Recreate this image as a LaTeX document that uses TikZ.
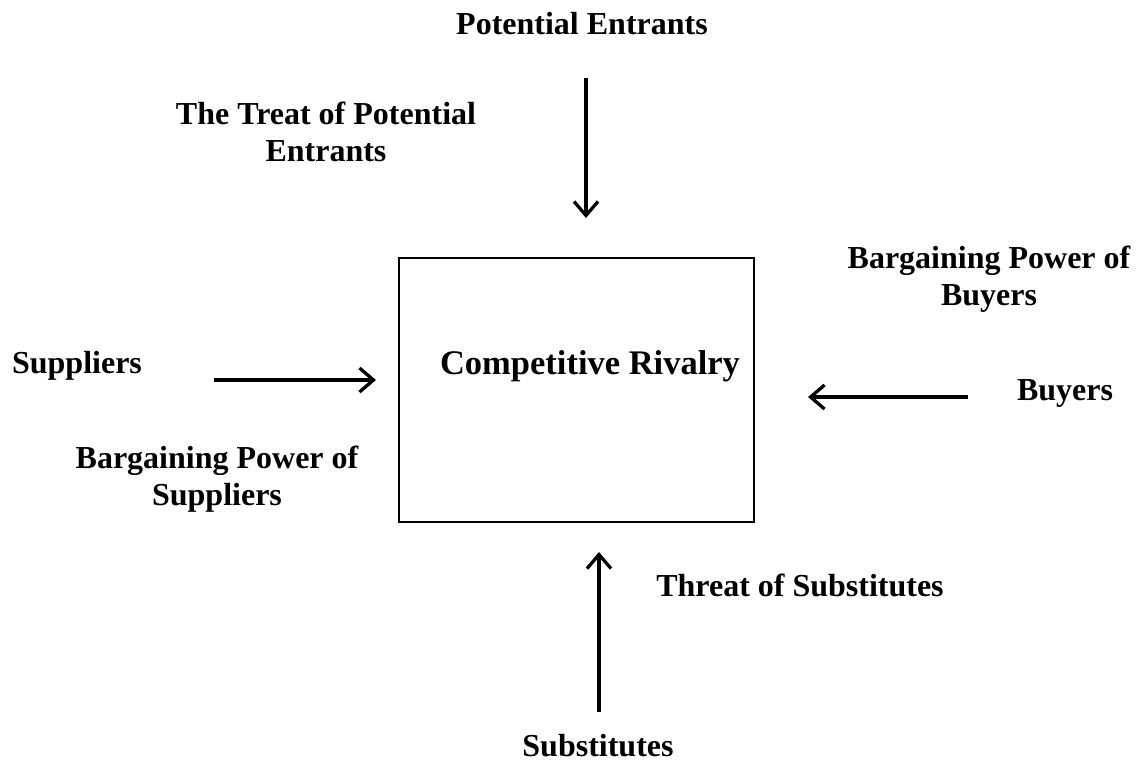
\documentclass[tikz,border=0pt]{standalone}
\usepackage{fontspec}
\setmainfont{Liberation Serif}
\usetikzlibrary{arrows.meta}
\tikzset{
  lbl/.style={font=\fontsize{32}{37}\selectfont\bfseries, inner sep=0pt, align=center},
  bigl/.style={font=\fontsize{34.5}{40}\selectfont\bfseries, inner sep=0pt},
  arr/.style={line width=3.3pt, -{Straight Barb[length=14pt,width=24pt]}},
  boxst/.style={draw, line width=2pt, minimum width=355pt, minimum height=264pt, inner sep=0pt}
}
\begin{document}
\begin{tikzpicture}[x=1pt,y=-1pt]
\useasboundingbox (0,0) rectangle (1142,764);
\node[boxst] (box) at (576.5,390) {};
\node[bigl] (rival) at (590,366) {Competitive Rivalry};
\node[lbl] (pe) at (582,24) {Potential Entrants};
\node[lbl] (tpe) at (326,132) {The Treat of Potential\\Entrants};
\node[lbl] (bpb) at (989,279) {Bargaining Power of\\Buyers};
\node[lbl] (sup) at (77,366) {Suppliers};
\node[lbl] (buy) at (1065,393) {Buyers};
\node[lbl] (bps) at (217,479) {Bargaining Power of\\Suppliers};
\node[lbl] (tos) at (800,585) {Threat of Substitutes};
\node[lbl] (subs) at (598,746) {Substitutes};
\coordinate (a1s) at (586,78);
\coordinate (a1e) at (586,218);
\coordinate (a2s) at (214,380);
\coordinate (a2e) at (376,380);
\coordinate (a3s) at (968,397);
\coordinate (a3e) at (808,397);
\coordinate (a4s) at (599,712);
\coordinate (a4e) at (599,552);
\draw[arr] (a1s) -- (a1e);
\draw[arr] (a2s) -- (a2e);
\draw[arr] (a3s) -- (a3e);
\draw[arr] (a4s) -- (a4e);
\end{tikzpicture}
\end{document}
